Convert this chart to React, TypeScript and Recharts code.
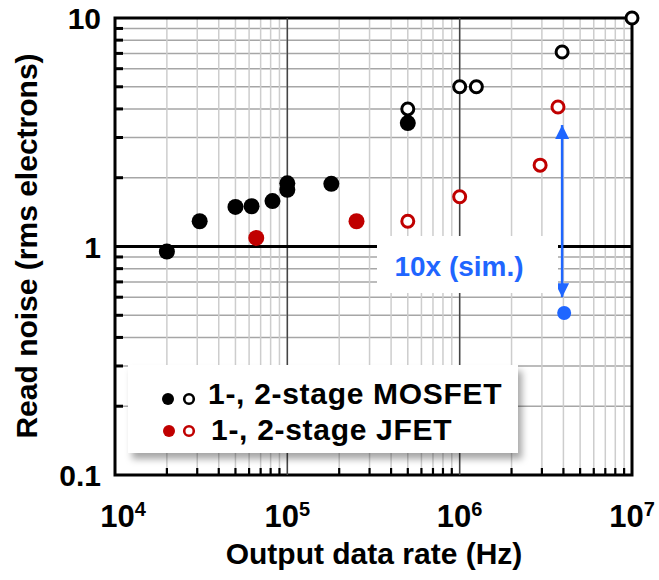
import { CartesianGrid, ReferenceArea, ReferenceLine, Scatter, ScatterChart, XAxis, YAxis } from "recharts"

/* ---------- data ---------- */
// 1-stage MOSFET (filled black)
const mos1Rate = [2.0e4, 3.1e4, 5.0e4, 6.2e4, 8.2e4, 1.0e5, 1.0e5, 1.8e5, 5.0e5]
const mos1Noise = [0.95, 1.29, 1.49, 1.5, 1.58, 1.89, 1.77, 1.88, 3.47]
// 2-stage MOSFET (open black)
const mos2Rate = [5.0e5, 1.0e6, 1.25e6, 3.93e6, 1.0e7]
const mos2Noise = [4.0, 5.0, 5.0, 7.1, 10]
// 1-stage JFET (filled red)
const jfet1Rate = [6.6e4, 2.52e5]
const jfet1Noise = [1.09, 1.29]
// 2-stage JFET (open red)
const jfet2Rate = [5.0e5, 1.0e6, 2.93e6, 3.72e6]
const jfet2Noise = [1.29, 1.65, 2.27, 4.08]
// simulated point + "10x" arrow
const simRate = [4.04e6]
const simNoise = [0.512]
const arrowRate = [3.93e6, 3.93e6]
const arrowNoise = [3.4, 0.6]
const arrowDir = ["up", "down"]

/* ---------- axes ---------- */
const xDecades = [1e4, 1e5, 1e6, 1e7]
const xExponents = ["4", "5", "6", "7"]
const yDecades = [0.1, 1, 10]
const yLabels = ["0.1", "1", "10"]
const minorSteps = [2, 3, 4, 5, 6, 7, 8, 9]

const xMinor = xDecades.slice(0, -1).flatMap((d) => minorSteps.map((m) => m * d))
const yMinor = yDecades.slice(0, -1).flatMap((d) => minorSteps.map((m) => +(m * d).toFixed(2)))
const xTicks = [...xDecades, ...xMinor].sort((a, b) => a - b)
const yTicks = [...yDecades, ...yMinor].sort((a, b) => a - b)

const zip = (xs: number[], ys: number[]) => xs.map((x, i) => ({ x, y: ys[i] }))

/* ---------- layout ---------- */
const W = 659
const H = 580
const margin = { top: 18, right: 27, bottom: 10, left: 10 }
const yAxisW = 105
const xAxisH = 95
const plotLeft = margin.left + yAxisW
const plotBottom = H - margin.bottom - xAxisH

const FONT = '"Liberation Sans", Arial, Helvetica, sans-serif'
const RED = "#c00000"
const BLUE = "#1f66ff"

function XTick(props: any) {
  const { x, payload } = props
  const i = xDecades.indexOf(payload.value)
  if (i < 0) {
    return <line x1={x} x2={x} y1={plotBottom} y2={plotBottom - 7} stroke="#000" strokeWidth={2.2} />
  }
  const dx = i === 0 ? 8 : 0
  return (
    <text x={x + dx} y={527} textAnchor="middle" fontFamily={FONT} fontWeight={700} fontSize={31} fill="#000">
      <tspan>10</tspan>
      <tspan dy={-11} fontSize={20}>
        {xExponents[i]}
      </tspan>
    </text>
  )
}

function YTick(props: any) {
  const { y, payload } = props
  const i = yDecades.indexOf(payload.value)
  if (i < 0) {
    return <line x1={plotLeft} x2={plotLeft + 8} y1={y} y2={y} stroke="#000" strokeWidth={3} />
  }
  return (
    <text x={101} y={y + 11} textAnchor="end" fontFamily={FONT} fontWeight={700} fontSize={30} fill="#000">
      {yLabels[i]}
    </text>
  )
}

const dot = (fill: string, r: number) => (p: any) => <circle cx={p.cx} cy={p.cy} r={r} fill={fill} />
const ring = (stroke: string) => (p: any) => (
  <circle cx={p.cx} cy={p.cy} r={6} fill="#fff" stroke={stroke} strokeWidth={3} />
)
const arrowHead = (p: any) => {
  const s = p.payload.dir === "up" ? 1 : -1
  return (
    <polygon
      points={`${p.cx},${p.cy} ${p.cx - 7},${p.cy + 14 * s} ${p.cx + 7},${p.cy + 14 * s}`}
      fill={BLUE}
    />
  )
}

export default function App() {
  const arrowData = zip(arrowRate, arrowNoise).map((d, i) => ({ ...d, dir: arrowDir[i] }))
  return (
    <div style={{ position: "absolute", left: 0, top: 0, width: W, height: H, background: "#fff" }}>
      <ScatterChart width={W} height={H} margin={margin}>
        <CartesianGrid vertical={false} stroke="#a6a6a6" strokeWidth={1.5} />
        <CartesianGrid horizontal={false} stroke="#cdcdcd" strokeWidth={1.5} />
        <XAxis
          type="number"
          dataKey="x"
          scale="log"
          domain={[1e4, 1e7]}
          ticks={xTicks}
          interval={0}
          height={xAxisH}
          axisLine={false}
          tickLine={false}
          tick={<XTick />}
        />
        <YAxis
          type="number"
          dataKey="y"
          scale="log"
          domain={[0.1, 10]}
          ticks={yTicks}
          interval={0}
          width={yAxisW}
          axisLine={false}
          tickLine={false}
          tick={<YTick />}
        />

        <ReferenceLine x={1e5} stroke="#444" strokeWidth={1.5} />
        <ReferenceLine x={1e6} stroke="#444" strokeWidth={1.5} />
        <ReferenceLine y={1} stroke="#000" strokeWidth={3} />
        <ReferenceArea
          x1={1e4}
          x2={1e7}
          y1={0.1}
          y2={10}
          ifOverflow="visible"
          fill="none"
          stroke="#000"
          strokeWidth={3}
        />

        <Scatter data={zip(mos1Rate, mos1Noise)} shape={dot("#000", 8)} isAnimationActive={false} />
        <Scatter data={zip(mos2Rate, mos2Noise)} shape={ring("#000")} isAnimationActive={false} />
        <Scatter data={zip(jfet1Rate, jfet1Noise)} shape={dot(RED, 8)} isAnimationActive={false} />
        <Scatter data={zip(jfet2Rate, jfet2Noise)} shape={ring(RED)} isAnimationActive={false} />
        <Scatter data={zip(simRate, simNoise)} shape={dot(BLUE, 7)} isAnimationActive={false} />
        <Scatter
          data={arrowData}
          line={{ stroke: BLUE, strokeWidth: 2.5 }}
          shape={arrowHead}
          isAnimationActive={false}
        />
      </ScatterChart>

      {/* annotations */}
      <svg width={W} height={H} style={{ position: "absolute", left: 0, top: 0, pointerEvents: "none" }}>
        <defs>
          <filter id="legend-shadow" x="-10%" y="-20%" width="130%" height="150%">
            <feDropShadow dx="4" dy="6" stdDeviation="3.5" floodColor="#000" floodOpacity="0.35" />
          </filter>
        </defs>
        <text x={37} y={246} transform="rotate(-90 37 246)" textAnchor="middle" fontFamily={FONT} fontWeight={700} fontSize={30}>
          Read noise (rms electrons)
        </text>
        <text x={374} y={564} textAnchor="middle" fontFamily={FONT} fontWeight={700} fontSize={30}>
          Output data rate (Hz)
        </text>

        <rect x={377} y={236} width={181} height={57} fill="#fff" />
        <text x={459} y={276} textAnchor="middle" fontFamily={FONT} fontWeight={700} fontSize={28} fill={BLUE}>
          10x (sim.)
        </text>

        <rect x={128} y={365} width={390} height={88} fill="#fff" filter="url(#legend-shadow)" />
        <circle cx={168} cy={399} r={6} fill="#000" />
        <circle cx={189} cy={399} r={4.8} fill="#fff" stroke="#000" strokeWidth={2.6} />
        <text x={208} y={404} fontFamily={FONT} fontWeight={700} fontSize={30} letterSpacing={0.7}>
          1-, 2-stage MOSFET
        </text>
        <circle cx={169} cy={431} r={6} fill={RED} />
        <circle cx={189} cy={431} r={4.8} fill="#fff" stroke={RED} strokeWidth={2.6} />
        <text x={211} y={440} fontFamily={FONT} fontWeight={700} fontSize={30} letterSpacing={0.7}>
          1-, 2-stage JFET
        </text>
      </svg>
    </div>
  )
}
